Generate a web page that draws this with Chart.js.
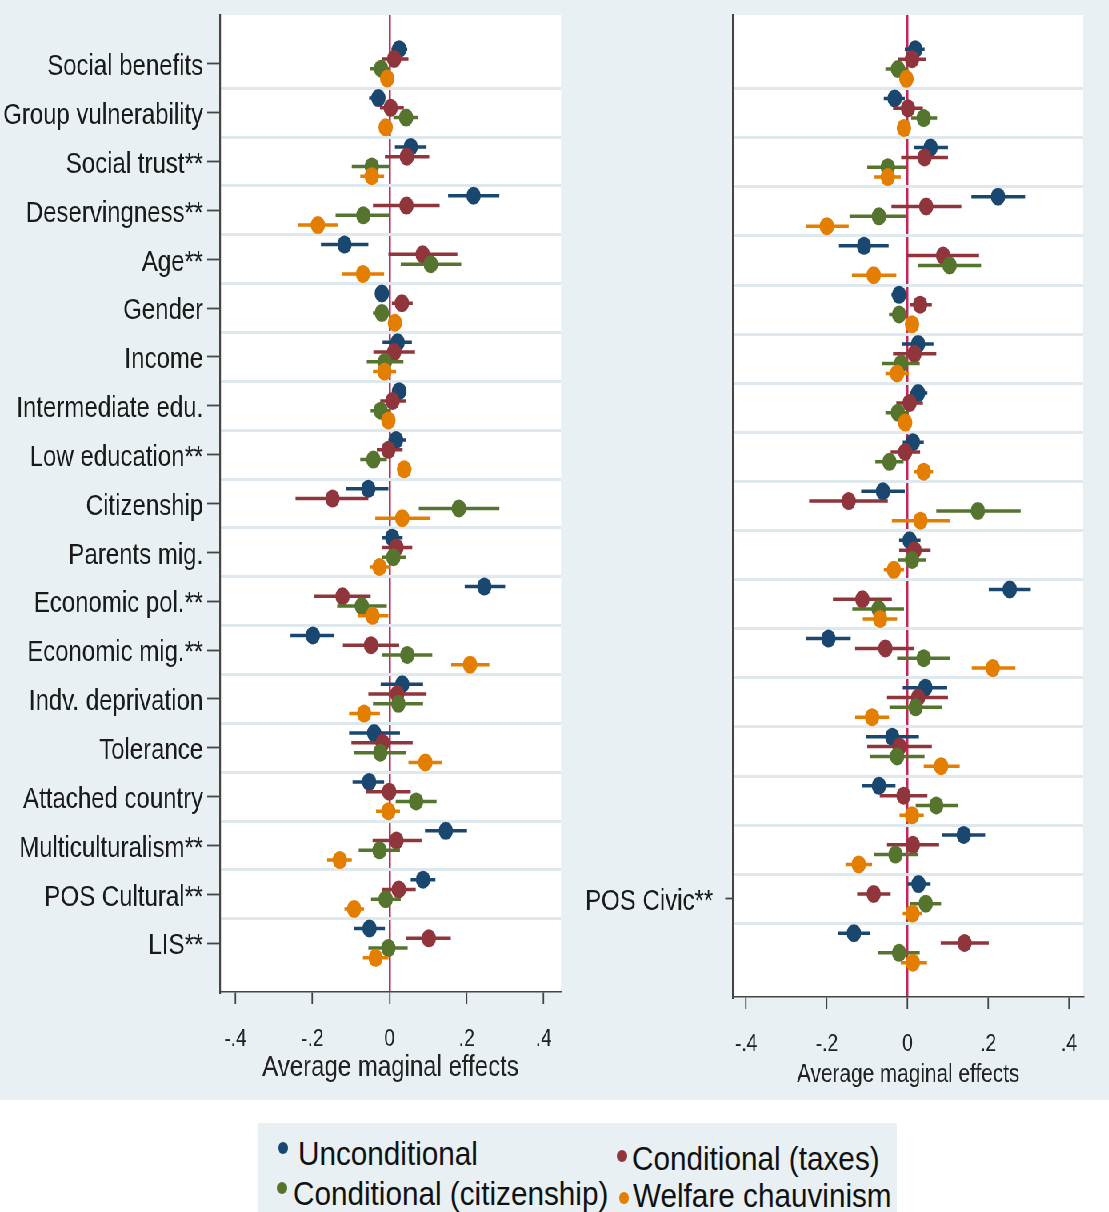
<!DOCTYPE html>
<html>
<head>
<meta charset="utf-8">
<script src="https://cdn.jsdelivr.net/npm/chart.js@4.4.0/dist/chart.umd.min.js"></script>
<style>
  body { margin: 0; background: #fff; width: 1109px; height: 1212px; position: relative; overflow: hidden;
         font-family: 'Liberation Sans', Arial, sans-serif; }
  #bg { position: absolute; left: 0; top: 0; width: 1109px; height: 1100px; background: #e8f0f3; }
  /* the whole figure is horizontally condensed, like the original export */
  #wrap { position: absolute; left: 0; top: 0; width: 1387px; height: 1100px; transform: scaleX(0.8); transform-origin: 0 0; }
  #cl { position: absolute; left: 0; top: 0; }
  #cr { position: absolute; left: 719px; top: 0; }
  #legend { position: absolute; left: 258px; top: 1123px; width: 639px; height: 89px; background: #e8f0f3; }
  #legend .dot { position: absolute; width: 10px; height: 12px; border-radius: 50%; }
  #legend .lt { position: absolute; font-size: 33px; line-height: 33px; color: #111; white-space: nowrap;
                transform: scaleX(0.9); transform-origin: 0 0; }
</style>
</head>
<body>
<div id="bg"></div>
<div id="wrap">
  <canvas id="cl" width="719" height="1100"></canvas>
  <canvas id="cr" width="667" height="1100"></canvas>
</div>
<div id="legend"></div>
<script>
const categories = ['Social benefits', 'Group vulnerability', 'Social trust**', 'Deservingness**', 'Age**',
  'Gender', 'Income', 'Intermediate edu.', 'Low education**', 'Citizenship', 'Parents mig.',
  'Economic pol.**', 'Economic mig.**', 'Indv. deprivation', 'Tolerance', 'Attached country',
  'Multiculturalism**', 'POS Cultural**', 'LIS**'];
const rightLabels = ['', '', '', '', '', '', '', '', '', '', '', '', '', '', '', '', '', 'POS Civic**', ''];

const seriesNames = ['Unconditional', 'Conditional (taxes)', 'Conditional (citizenship)', 'Welfare chauvinism'];
const seriesColors = ['#1a476f', '#90353b', '#55752f', '#e37e00'];

const xTickValues = [-0.4, -0.2, 0, 0.2, 0.4];
const xTickLabels = ['-.4', '-.2', '0', '.2', '.4'];

// ---- left panel (POS Cultural model) ----
const leftUncond   = [0.025, -0.029, 0.055, 0.218, -0.117, -0.020, 0.021, 0.025, 0.017, -0.055, 0.007, 0.246, -0.199, 0.033, -0.040, -0.053, 0.146, 0.087, -0.052];
const leftUncondLo = [0.005, -0.053, 0.014, 0.152, -0.178, -0.035, -0.018, 0.006, -0.003, -0.112, -0.020, 0.195, -0.257, -0.023, -0.105, -0.096, 0.092, 0.055, -0.093];
const leftUncondHi = [0.046, -0.012, 0.096, 0.285, -0.055, -0.003, 0.058, 0.044, 0.043, -0.003, 0.034, 0.300, -0.143, 0.087, 0.027, -0.014, 0.201, 0.119, -0.012];

const leftTaxes   = [0.012, 0.003, 0.045, 0.044, 0.086, 0.032, 0.012, 0.008, -0.003, -0.148, 0.018, -0.122, -0.048, 0.020, -0.018, -0.001, 0.018, 0.024, 0.102];
const leftTaxesLo = [-0.020, -0.025, -0.012, -0.043, -0.003, 0.006, -0.042, -0.024, -0.033, -0.244, -0.020, -0.195, -0.121, -0.055, -0.099, -0.062, -0.044, -0.019, 0.043];
const leftTaxesHi = [0.049, 0.037, 0.103, 0.130, 0.176, 0.060, 0.066, 0.043, 0.034, -0.055, 0.059, -0.049, 0.025, 0.096, 0.060, 0.055, 0.083, 0.068, 0.159];

const leftCitiz   = [-0.022, 0.043, -0.046, -0.068, 0.107, -0.020, -0.012, -0.023, -0.042, 0.180, 0.010, -0.072, 0.046, 0.023, -0.024, 0.069, -0.026, -0.010, -0.003];
const leftCitizLo = [-0.050, 0.010, -0.098, -0.140, 0.029, -0.043, -0.059, -0.049, -0.076, 0.076, -0.020, -0.136, -0.019, -0.043, -0.093, 0.016, -0.080, -0.048, -0.055];
const leftCitizHi = [0.001, 0.074, 0.001, -0.001, 0.186, 0.001, 0.036, 0.003, -0.007, 0.285, 0.043, -0.007, 0.111, 0.087, 0.043, 0.122, 0.027, 0.029, 0.047];

const leftChauv   = [-0.006, -0.010, -0.046, -0.186, -0.069, 0.014, -0.013, -0.003, 0.038, 0.033, -0.026, -0.044, 0.209, -0.066, 0.093, -0.003, -0.129, -0.092, -0.036];
const leftChauvLo = [-0.020, -0.025, -0.076, -0.237, -0.123, 0.000, -0.043, -0.018, 0.020, -0.037, -0.052, -0.083, 0.160, -0.105, 0.049, -0.035, -0.162, -0.117, -0.069];
const leftChauvHi = [0.010, 0.006, -0.014, -0.135, -0.014, 0.029, 0.017, 0.014, 0.057, 0.104, 0.001, -0.003, 0.259, -0.025, 0.136, 0.027, -0.098, -0.066, -0.003];

// ---- right panel (POS Civic model) ----
const rightUncond   = [0.019, -0.032, 0.057, 0.224, -0.108, -0.021, 0.026, 0.026, 0.013, -0.061, 0.005, 0.253, -0.196, 0.044, -0.038, -0.071, 0.139, 0.027, -0.133];
const rightUncondLo = [-0.007, -0.059, 0.015, 0.158, -0.170, -0.040, -0.013, 0.005, -0.012, -0.115, -0.021, 0.201, -0.251, -0.012, -0.102, -0.112, 0.085, 0.001, -0.173];
const rightUncondHi = [0.042, -0.007, 0.100, 0.291, -0.047, -0.002, 0.064, 0.049, 0.040, -0.007, 0.032, 0.305, -0.141, 0.098, 0.028, -0.030, 0.192, 0.057, -0.092];

const rightTaxes   = [0.011, 0.001, 0.042, 0.046, 0.088, 0.031, 0.017, 0.005, -0.006, -0.146, 0.017, -0.112, -0.055, 0.026, -0.020, -0.010, 0.013, -0.084, 0.141];
const rightTaxesLo = [-0.024, -0.036, -0.016, -0.040, -0.002, 0.005, -0.036, -0.028, -0.042, -0.244, -0.021, -0.185, -0.130, -0.051, -0.100, -0.069, -0.051, -0.125, 0.082];
const rightTaxesHi = [0.046, 0.038, 0.100, 0.133, 0.177, 0.060, 0.071, 0.038, 0.031, -0.049, 0.057, -0.039, 0.017, 0.100, 0.060, 0.049, 0.078, -0.042, 0.201];

const rightCitiz   = [-0.024, 0.040, -0.049, -0.071, 0.104, -0.021, -0.016, -0.024, -0.045, 0.174, 0.011, -0.072, 0.040, 0.020, -0.026, 0.071, -0.030, 0.045, -0.021];
const rightCitizLo = [-0.055, 0.009, -0.100, -0.144, 0.026, -0.046, -0.064, -0.055, -0.080, 0.071, -0.024, -0.137, -0.026, -0.045, -0.094, 0.020, -0.083, 0.007, -0.073];
const rightCitizHi = [0.001, 0.073, -0.003, -0.003, 0.182, -0.002, 0.030, 0.003, -0.010, 0.280, 0.045, -0.009, 0.104, 0.085, 0.042, 0.125, 0.026, 0.083, 0.030];

const rightChauv   = [-0.003, -0.009, -0.049, -0.200, -0.084, 0.011, -0.026, -0.006, 0.040, 0.032, -0.034, -0.068, 0.211, -0.088, 0.083, 0.011, -0.121, 0.012, 0.013];
const rightChauvLo = [-0.020, -0.026, -0.082, -0.251, -0.138, -0.003, -0.055, -0.020, 0.016, -0.039, -0.059, -0.111, 0.159, -0.130, 0.040, -0.020, -0.154, -0.012, -0.017];
const rightChauvHi = [0.015, 0.007, -0.017, -0.146, -0.028, 0.026, 0.003, 0.009, 0.063, 0.106, -0.009, -0.026, 0.267, -0.046, 0.129, 0.040, -0.088, 0.036, 0.048];

const family = "'Liberation Sans', Arial, sans-serif";
const gridColor = '#dfe9ed';
const zeroLineColor = '#c3285b';
const axisColor = '#444';
const rowOffsets = [-0.3, -0.1, 0.1, 0.3];   // position of each series inside a row

// y ticks: integer = variable row, half = separator grid line
const yTickValues = [];
categories.forEach((c, i) => {
  yTickValues.push(i);
  if (i < categories.length - 1) yTickValues.push(i + 0.5);
});

function panelDatasets(est, lo, hi) {
  const ds = [];
  est.forEach((vals, s) => {
    const off = rowOffsets[s];
    const ci = [];
    vals.forEach((v, i) => {
      ci.push({x: lo[s][i], y: i + off}, {x: hi[s][i], y: i + off}, {x: null, y: null});
    });
    ds.push({
      label: seriesNames[s] + ' CI', data: ci, showLine: true, spanGaps: false,
      borderColor: seriesColors[s], borderWidth: 3.5, pointRadius: 0, order: 8 - 2 * s
    });
    ds.push({
      label: seriesNames[s], data: vals.map((v, i) => ({x: v, y: i + off})),
      backgroundColor: seriesColors[s], borderWidth: 0, pointRadius: 9, order: 7 - 2 * s
    });
  });
  return ds;
}

const plotBg = {
  id: 'plotBg',
  beforeDraw(chart) {
    const {ctx, chartArea: a} = chart;
    ctx.save();
    ctx.fillStyle = '#fff';
    ctx.fillRect(a.left, a.top, a.right - a.left, a.bottom - a.top);
    ctx.restore();
  }
};

function makeOptions(labels, cfg) {
  return {
    responsive: false,
    animation: false,
    layout: {padding: {top: 15, right: cfg.padRight, left: 0, bottom: 0}},
    plugins: {legend: {display: false}, tooltip: {enabled: false}},
    scales: {
      x: {
        type: 'linear', min: cfg.xmin, max: cfg.xmax,
        afterBuildTicks: s => { s.ticks = xTickValues.map(v => ({value: v})); },
        afterFit: s => { s.height = cfg.xHeight; s.paddingLeft = 0; s.paddingRight = 0; },
        ticks: {
          autoSkip: false, maxRotation: 0, padding: 21, color: '#222',
          font: {size: 24, family: family},
          callback: (v, i) => xTickLabels[i]
        },
        grid: {
          color: c => (c.tick && c.tick.value === 0) ? zeroLineColor : 'rgba(0,0,0,0)',
          lineWidth: 2.5, tickColor: axisColor, tickLength: 12, tickWidth: 1.8
        },
        border: {display: true, color: axisColor, width: 1.5},
        title: {
          display: true, text: 'Average maginal effects', color: '#222',
          font: {size: cfg.titleSize, family: family},
          padding: {top: 0, bottom: cfg.titlePad}
        }
      },
      y: {
        type: 'linear', reverse: true, min: -1, max: 19,
        afterBuildTicks: s => { s.ticks = yTickValues.map(v => ({value: v})); },
        afterFit: s => { s.width = cfg.yWidth; s.paddingTop = 0; s.paddingBottom = 0; },
        ticks: {
          autoSkip: false, padding: cfg.yPad, labelOffset: 3, color: '#1a1a1a',
          font: {size: 30, family: family},
          callback: v => Number.isInteger(v) ? labels[v] : ''
        },
        grid: {
          color: c => (c.tick && !Number.isInteger(c.tick.value)) ? gridColor : 'rgba(0,0,0,0)',
          lineWidth: 3, tickLength: cfg.yTick, tickWidth: 1.8,
          tickColor: c => (c.tick && Number.isInteger(c.tick.value) && labels[c.tick.value]) ? axisColor : 'rgba(0,0,0,0)'
        },
        border: {display: true, color: axisColor, width: 2.2}
      }
    }
  };
}

new Chart(document.getElementById('cl'), {
  type: 'scatter',
  data: {datasets: panelDatasets(
    [leftUncond, leftTaxes, leftCitiz, leftChauv],
    [leftUncondLo, leftTaxesLo, leftCitizLo, leftChauvLo],
    [leftUncondHi, leftTaxesHi, leftCitizHi, leftChauvHi])},
  options: makeOptions(categories, {
    xmin: -0.44, xmax: 0.445, padRight: 17.75, xHeight: 108, yWidth: 275,
    yPad: 5, yTick: 16, titleSize: 30, titlePad: 14
  }),
  plugins: [plotBg]
});

new Chart(document.getElementById('cr'), {
  type: 'scatter',
  data: {datasets: panelDatasets(
    [rightUncond, rightTaxes, rightCitiz, rightChauv],
    [rightUncondLo, rightTaxesLo, rightCitizLo, rightChauvLo],
    [rightUncondHi, rightTaxesHi, rightCitizHi, rightChauvHi])},
  options: makeOptions(rightLabels, {
    xmin: -0.432, xmax: 0.435, padRight: 32, xHeight: 103, yWidth: 197.5,
    yPad: 15, yTick: 10, titleSize: 26, titlePad: 9.4
  }),
  plugins: [plotBg]
});

// legend (two columns, two rows)
const legendItems = [
  {dot: [283, 1148], text: [298, 1153]},
  {dot: [622, 1156], text: [632, 1158]},
  {dot: [282, 1188], text: [293, 1193]},
  {dot: [624, 1198], text: [633, 1195]}
];
const legendBox = document.getElementById('legend');
legendItems.forEach((it, s) => {
  const d = document.createElement('span');
  d.className = 'dot';
  d.style.background = seriesColors[s];
  d.style.left = (it.dot[0] - 5 - 258) + 'px';
  d.style.top = (it.dot[1] - 6 - 1123) + 'px';
  legendBox.appendChild(d);
  const t = document.createElement('span');
  t.className = 'lt';
  t.textContent = seriesNames[s];
  t.style.left = (it.text[0] - 258) + 'px';
  t.style.top = (it.text[1] - 16 - 1123) + 'px';
  legendBox.appendChild(t);
});
</script>
</body>
</html>
